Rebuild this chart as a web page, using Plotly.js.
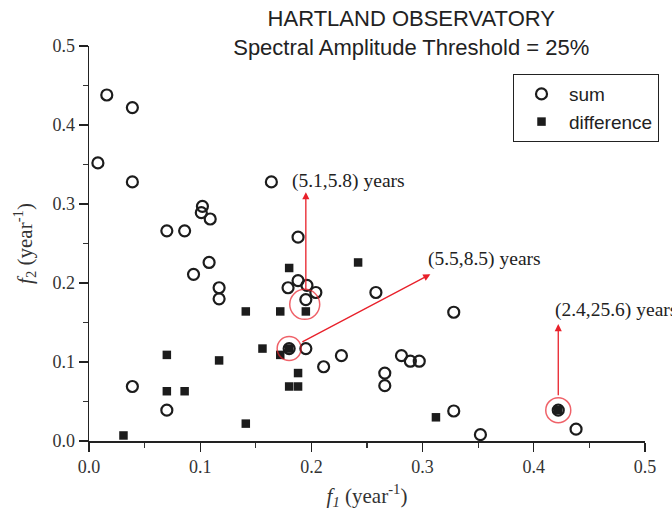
<!DOCTYPE html>
<html>
<head>
<meta charset="utf-8">
<script src="https://cdn.plot.ly/plotly-3.0.1.min.js"></script>
<style>html,body{margin:0;padding:0;background:#fff;} #chart{width:672px;height:517px;}</style>
</head>
<body>
<div id="chart"></div>
<script>
// sum frequencies (f1, f2) in year^-1
var sumX = [0.016, 0.039, 0.008, 0.039, 0.102, 0.101, 0.109, 0.070, 0.086, 0.164,
            0.188, 0.108, 0.094, 0.117, 0.117, 0.039, 0.070, 0.188, 0.179, 0.196,
            0.204, 0.195, 0.180, 0.195, 0.227, 0.211, 0.258, 0.328, 0.281, 0.289,
            0.297, 0.266, 0.266, 0.328, 0.352, 0.422, 0.438];
var sumY = [0.438, 0.422, 0.352, 0.328, 0.297, 0.289, 0.281, 0.266, 0.266, 0.328,
            0.258, 0.226, 0.211, 0.194, 0.180, 0.069, 0.039, 0.203, 0.194, 0.197,
            0.188, 0.179, 0.117, 0.117, 0.108, 0.094, 0.188, 0.163, 0.108, 0.101,
            0.101, 0.086, 0.070, 0.038, 0.008, 0.039, 0.015];

// difference frequencies
var diffX = [0.180, 0.141, 0.172, 0.195, 0.156, 0.172, 0.180, 0.070, 0.117, 0.188,
             0.180, 0.188, 0.070, 0.086, 0.141, 0.031, 0.242, 0.312, 0.422];
var diffY = [0.219, 0.164, 0.164, 0.164, 0.117, 0.109, 0.117, 0.109, 0.102, 0.086,
             0.069, 0.069, 0.063, 0.063, 0.022, 0.007, 0.226, 0.030, 0.039];

// highlighted periods
var hlX = [0.194, 0.180, 0.422];
var hlY = [0.173, 0.117, 0.039];
var hlSize = [30, 24, 25];
var hlLabels = ['(5.1,5.8) years', '(5.5,8.5) years', '(2.4,25.6) years'];
var arrowTipX = [0.195, 0.307, 0.422];
var arrowTipY = [0.315, 0.211, 0.148];
var arrowTailX = [0.195, 0.1905, 0.422];
var arrowTailY = [0.190, 0.1245, 0.056];
var labelX = [0.181, 0.3035, 0.417];
var labelY = [0.3295, 0.230, 0.166];

var xTicks = [0.0, 0.1, 0.2, 0.3, 0.4, 0.5];
var yTicks = [0.0, 0.1, 0.2, 0.3, 0.4, 0.5];

var ink = '#1c1c1c';
var red = '#e8202a';

var traces = [
  {x: sumX, y: sumY, type: 'scatter', mode: 'markers', name: 'sum',
   marker: {symbol: 'circle-open', size: 11, color: ink, line: {width: 2.2, color: ink}},
   cliponaxis: false},
  {x: diffX, y: diffY, type: 'scatter', mode: 'markers', name: 'difference',
   marker: {symbol: 'square', size: 8.5, color: ink}, cliponaxis: false},
  {x: hlX, y: hlY, type: 'scatter', mode: 'markers', showlegend: false,
   marker: {symbol: 'circle-open', size: hlSize, color: red, line: {width: 1.5, color: red}},
   cliponaxis: false}
];

var annotations = [];
for (var i = 0; i < hlLabels.length; i++) {
  annotations.push({
    x: arrowTipX[i], y: arrowTipY[i], xref: 'x', yref: 'y',
    ax: arrowTailX[i], ay: arrowTailY[i], axref: 'x', ayref: 'y',
    text: '', showarrow: true, arrowhead: 2, arrowsize: 1.1, arrowwidth: 1.3,
    arrowcolor: red, standoff: 0, startstandoff: 0
  });
  annotations.push({
    x: labelX[i], y: labelY[i], xref: 'x', yref: 'y',
    text: hlLabels[i], showarrow: false, xanchor: 'left', yanchor: 'middle',
    font: {family: 'Liberation Serif, Times New Roman, serif', size: 19.5, color: '#222'}
  });
}

var axisCommon = {
  range: [0, 0.5], showgrid: false, zeroline: false, showline: true,
  linecolor: '#222', linewidth: 1.5, ticks: 'outside', ticklen: 9, tickwidth: 1.3,
  tickcolor: '#222', tickformat: '.1f',
  tickfont: {family: 'Liberation Serif, Times New Roman, serif', size: 18, color: '#333'},
  minor: {dtick: 0.05, ticks: 'outside', ticklen: 5, tickwidth: 1.2, tickcolor: '#333'},
  fixedrange: true
};

var layout = {
  width: 672, height: 517,
  margin: {l: 89, r: 27, t: 46, b: 76},
  paper_bgcolor: '#fff', plot_bgcolor: '#fff',
  showlegend: true,
  title: {
    text: 'HARTLAND OBSERVATORY<br>Spectral Amplitude Threshold = 25%',
    x: 0.612, xanchor: 'center', xref: 'container',
    y: 0.949, yanchor: 'top', yref: 'container',
    font: {family: 'Liberation Sans, Arial, sans-serif', size: 22, color: '#222'}
  },
  xaxis: Object.assign({}, axisCommon, {
    tickvals: xTicks,
    title: {text: '<i>f</i><sub><i>1</i></sub> (year<sup>-1</sup>)', standoff: 12,
            font: {family: 'Liberation Serif, Times New Roman, serif', size: 21, color: '#333'}}
  }),
  yaxis: Object.assign({}, axisCommon, {
    tickvals: yTicks,
    title: {text: '<i>f</i><sub>2</sub> (year<sup>-1</sup>)', standoff: 14,
            font: {family: 'Liberation Serif, Times New Roman, serif', size: 21, color: '#333'}}
  }),
  legend: {
    x: 0.7626, xanchor: 'left', y: 0.929, yanchor: 'top',
    bordercolor: '#222', borderwidth: 1, bgcolor: '#fff',
    itemwidth: 45, entrywidth: 175, entrywidthmode: 'pixels',
    font: {family: 'Liberation Sans, Arial, sans-serif', size: 19, color: '#222'}
  },
  annotations: annotations
};

Plotly.newPlot('chart', traces, layout, {displayModeBar: false, staticPlot: true});
</script>
</body>
</html>
